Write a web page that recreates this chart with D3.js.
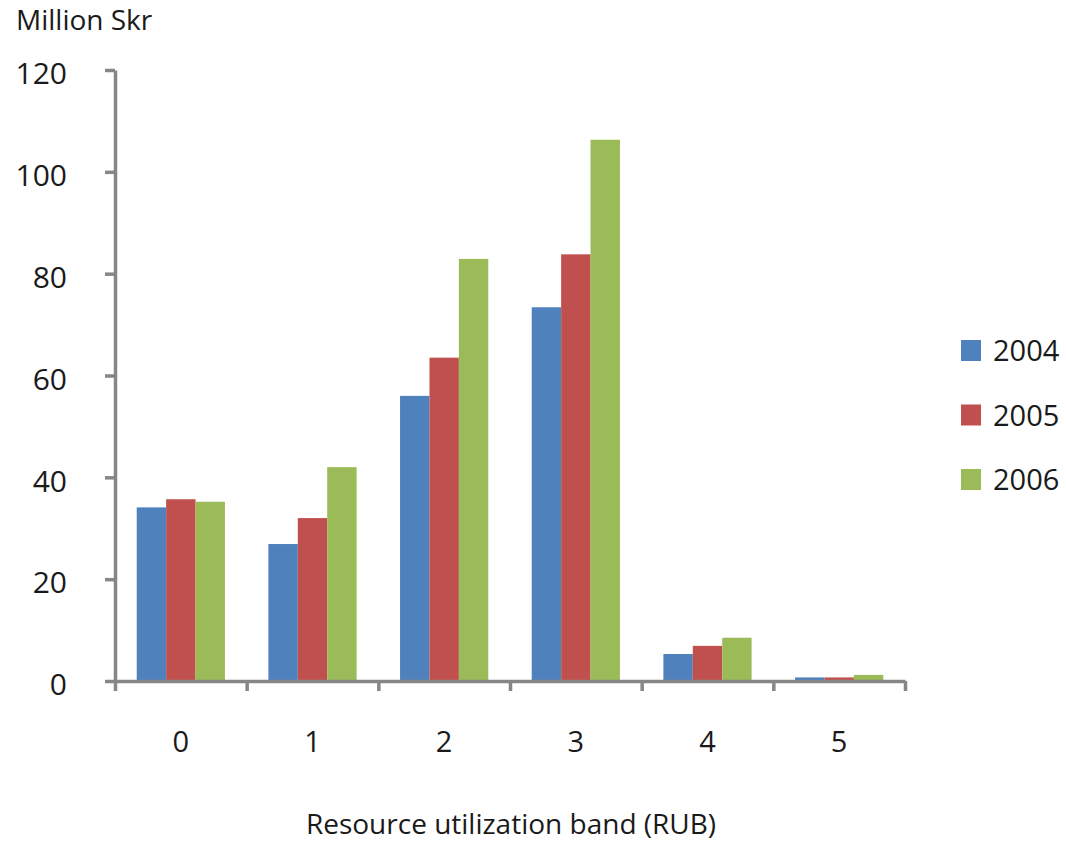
<!DOCTYPE html>
<html><head><meta charset="utf-8">
<script src="https://cdn.jsdelivr.net/npm/d3@7"></script>
<style>body{margin:0;background:#fff}svg text{font-family:"Open Sans","Lato",sans-serif;fill:#1a1a1a}</style>
</head><body><svg id="c" width="1066" height="843"></svg>
<script>
const categories = ["0","1","2","3","4","5"];
const seriesNames = ["2004","2005","2006"];
const values2004 = [34.1, 26.9, 56.0, 73.4, 5.3, 0.7];
const values2005 = [35.7, 32.0, 63.5, 83.8, 6.9, 0.7];
const values2006 = [35.2, 42.0, 82.9, 106.3, 8.5, 1.2];
const yTicks = [0, 20, 40, 60, 80, 100, 120];
const colors = ["#4F81BD", "#C0504D", "#9BBB59"];
const series = [values2004, values2005, values2006];

(function () {
const svg = d3.select("#c");
const mLeft = 115, mRight = 905, mTop = 70, mBottom = 681;
const x = d3.scaleBand().domain(categories).range([mLeft, mRight]).paddingInner(0.33).paddingOuter(0.165);
const xs = d3.scaleBand().domain(seriesNames).range([0, x.bandwidth()]);
const y = d3.scaleLinear().domain([0, 120]).range([mBottom, mTop]);
const bounds = d3.scaleLinear().domain([0, categories.length]).range([mLeft, mRight]);

series.forEach((vals, si) => {
  svg.append("g").selectAll("rect").data(vals).join("rect")
    .attr("x", (d, i) => x(categories[i]) + xs(seriesNames[si]))
    .attr("width", xs.bandwidth())
    .attr("y", d => y(d))
    .attr("height", d => y(0) - y(d))
    .attr("fill", colors[si]);
});

const ya = svg.append("g").attr("transform", `translate(${mLeft},0)`)
  .call(d3.axisLeft(y).tickValues(yTicks).tickSize(10).tickPadding(38).tickSizeOuter(0));
ya.select(".domain").attr("stroke", "#868686").attr("stroke-width", 3.5);
ya.selectAll(".tick line").attr("stroke", "#868686").attr("stroke-width", 3.5);
ya.selectAll(".tick text").attr("font-size", 30).attr("dy", "0.46em");

const xb = svg.append("g").attr("transform", `translate(0,${mBottom})`)
  .call(d3.axisBottom(bounds).ticks(categories.length).tickSize(10).tickFormat("").tickSizeOuter(0));
xb.select(".domain").attr("stroke", "#868686").attr("stroke-width", 3.5);
xb.selectAll(".tick line").attr("stroke", "#868686").attr("stroke-width", 3.5);

const xl = svg.append("g").attr("transform", `translate(0,${mBottom})`)
  .call(d3.axisBottom(x).tickSize(0).tickPadding(61));
xl.select(".domain").remove();
xl.selectAll(".tick text").attr("font-size", 29).attr("dy", "0.36em");

svg.append("text").attr("x", 16).attr("y", 30).attr("font-size", 28).text("Million Skr");
svg.append("text").attr("x", 511).attr("y", 834).attr("text-anchor", "middle")
  .attr("font-size", 28).text("Resource utilization band (RUB)");

const ly = d3.scalePoint().domain(seriesNames).range([350, 479]);
seriesNames.forEach((s, i) => {
  svg.append("rect").attr("x", 961).attr("y", ly(s) - 10).attr("width", 20).attr("height", 21).attr("fill", colors[i]);
  svg.append("text").attr("x", 993).attr("y", ly(s)).attr("dy", "0.38em").attr("font-size", 29).text(s);
});
})();
</script></body></html>
